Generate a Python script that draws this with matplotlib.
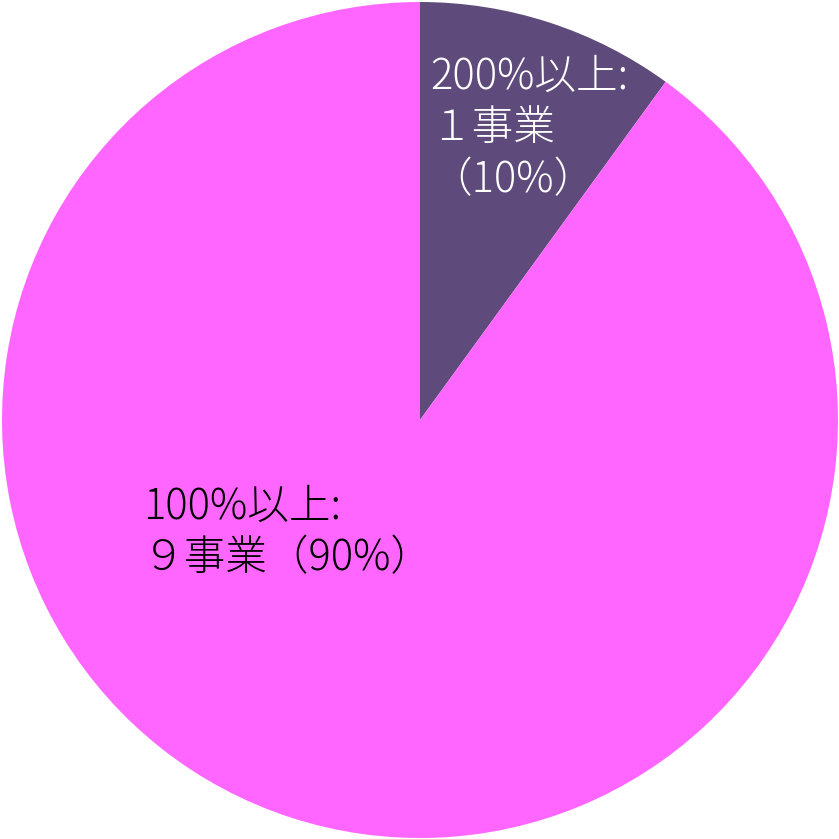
import matplotlib
matplotlib.use("Agg")
import matplotlib.pyplot as plt

plt.rcParams['font.family'] = ['Noto Sans CJK JP', 'DejaVu Sans']

categories = ["200%以上", "100%以上"]
counts = [1, 9]
percents = [10, 90]
colors = ["#5F4B7B", "#FF66FF"]
label_texts = ["200%以上:\n１事業\n（10%）", "100%以上:\n９事業（90%）"]
text_colors = ["white", "black"]

fig = plt.figure(figsize=(8.39, 8.39), dpi=100)
ax = fig.add_axes([0, 0, 1, 1])
ax.pie(counts, colors=colors, startangle=90, counterclock=False, radius=1.0,
       wedgeprops=dict(linewidth=0))
R = 418.0
ax.set_xlim(-420 / R, 419 / R)
ax.set_ylim(-419 / R, 420 / R)
ax.set_aspect('equal')
ax.axis('off')

positions = [(430, 55), (143, 485)]
for txt, col, (px, py) in zip(label_texts, text_colors, positions):
    fig.text(px / 839, 1 - py / 839, txt, color=col, fontsize=30,
             ha='left', va='top', linespacing=1.25, fontweight='light')

fig.savefig("out.png", dpi=100)
